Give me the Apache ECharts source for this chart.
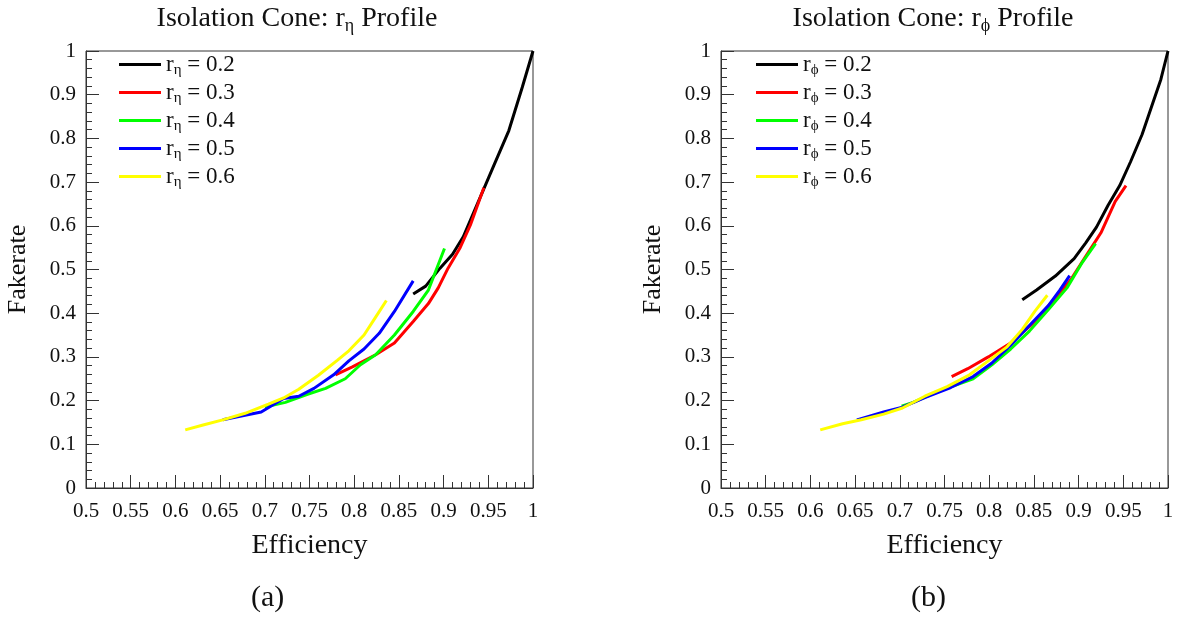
<!DOCTYPE html>
<html>
<head>
<meta charset="utf-8">
<script src="https://cdn.jsdelivr.net/npm/echarts@6/dist/echarts.min.js"></script>
<style>
  html, body { margin: 0; padding: 0; background: #fff; }
  #main { width: 1188px; height: 618px; }
</style>
</head>
<body>
<div id="main"></div>
<script>
var dom = document.getElementById('main');
var myChart = echarts.init(dom, null, { renderer: 'canvas' });

// cone radii shown in the legends
var radii = ['0.2', '0.3', '0.4', '0.5', '0.6'];
var lineColors = ['#000000', '#ff0000', '#00ff00', '#0000ff', '#ffff00'];

// (a) r_eta profile: [efficiency, fakerate]
var eta02 = [[0.866,0.444],[0.880,0.462],[0.896,0.503],[0.910,0.535],[0.922,0.575],[0.939,0.656],[0.956,0.737],[0.973,0.818],[0.988,0.917],[1.0,1.0]];
var eta03 = [[0.779,0.259],[0.798,0.277],[0.824,0.305],[0.845,0.332],[0.866,0.381],[0.883,0.422],[0.894,0.458],[0.905,0.503],[0.918,0.548],[0.930,0.602],[0.945,0.687]];
var eta04 = [[0.700,0.185],[0.723,0.196],[0.747,0.214],[0.768,0.228],[0.790,0.250],[0.807,0.282],[0.824,0.305],[0.845,0.350],[0.866,0.404],[0.883,0.453],[0.901,0.548]];
var eta05 = [[0.653,0.156],[0.696,0.174],[0.721,0.205],[0.738,0.210],[0.755,0.228],[0.777,0.259],[0.794,0.291],[0.811,0.318],[0.828,0.354],[0.845,0.404],[0.866,0.474]];
var eta06 = [[0.611,0.133],[0.631,0.144],[0.653,0.156],[0.678,0.171],[0.704,0.192],[0.721,0.206],[0.738,0.226],[0.760,0.258],[0.781,0.292],[0.794,0.314],[0.811,0.350],[0.824,0.391],[0.836,0.429]];

// (b) r_phi profile: [efficiency, fakerate]
var phi02 = [[0.837,0.431],[0.853,0.453],[0.874,0.485],[0.895,0.525],[0.908,0.561],[0.920,0.597],[0.933,0.647],[0.946,0.692],[0.958,0.746],[0.971,0.809],[0.983,0.881],[0.992,0.935],[1.0,1.0]];
var phi03 = [[0.758,0.255],[0.776,0.273],[0.799,0.300],[0.824,0.332],[0.849,0.377],[0.874,0.435],[0.891,0.476],[0.908,0.530],[0.925,0.584],[0.941,0.656],[0.953,0.692]];
var phi04 = [[0.702,0.187],[0.715,0.196],[0.740,0.219],[0.765,0.237],[0.782,0.250],[0.803,0.282],[0.824,0.318],[0.845,0.359],[0.866,0.408],[0.887,0.458],[0.904,0.516],[0.919,0.559]];
var phi05 = [[0.652,0.156],[0.682,0.174],[0.703,0.185],[0.728,0.207],[0.757,0.230],[0.782,0.255],[0.803,0.286],[0.824,0.327],[0.845,0.372],[0.866,0.417],[0.879,0.453],[0.890,0.486]];
var phi06 = [[0.611,0.133],[0.636,0.147],[0.657,0.156],[0.682,0.169],[0.703,0.183],[0.728,0.210],[0.753,0.232],[0.778,0.259],[0.799,0.291],[0.820,0.323],[0.837,0.363],[0.851,0.404],[0.865,0.441]];

var etaData = [eta02, eta03, eta04, eta05, eta06];
var phiData = [phi02, phi03, phi04, phi05, phi06];

var serif = '"Liberation Serif", "DejaVu Serif", serif';
var richText = {
    r: { fontFamily: serif, fontSize: 23, color: '#111' },
    s: { fontFamily: serif, fontSize: 15, color: '#111', padding: [12, 0, 0, 0] }
};
var titleRich = {
    r: { fontFamily: serif, fontSize: 28, fontWeight: 'normal', color: '#111' },
    s: { fontFamily: serif, fontSize: 18, fontWeight: 'normal', color: '#111', padding: [15, 0, 0, 0] }
};

function makeX(idx) {
    return {
        gridIndex: idx, type: 'value', min: 0.5, max: 1, interval: 0.05,
        name: 'Efficiency', nameLocation: 'middle', nameGap: 44,
        nameTextStyle: { fontFamily: serif, fontSize: 28, color: '#111' },
        axisLine: { lineStyle: { color: '#333', width: 1 } },
        axisTick: { inside: true, length: 13, lineStyle: { color: '#333' } },
        minorTick: { show: true, splitNumber: 5, length: 6, lineStyle: { color: '#333' } },
        axisLabel: {
            fontFamily: serif, fontSize: 21, color: '#111', margin: 13,
            formatter: function (v) { return String(+v.toFixed(2)); }
        },
        splitLine: { show: false }
    };
}
function makeY(idx) {
    return {
        gridIndex: idx, type: 'value', min: 0, max: 1, interval: 0.1,
        name: 'Fakerate', nameLocation: 'middle', nameGap: 55,
        nameTextStyle: { fontFamily: serif, fontSize: 26, color: '#111' },
        axisLine: { lineStyle: { color: '#333', width: 1 } },
        axisTick: { inside: true, length: 13, lineStyle: { color: '#333' } },
        minorTick: { show: true, splitNumber: 5, length: 6, lineStyle: { color: '#333' } },
        axisLabel: {
            fontFamily: serif, fontSize: 21, color: '#111', margin: 10,
            formatter: function (v) { return String(+v.toFixed(1)); }
        },
        splitLine: { show: false }
    };
}

var series = [];
var etaNames = [], phiNames = [];
radii.forEach(function (r, i) {
    etaNames.push('rη = ' + r);
    phiNames.push('rϕ = ' + r);
    series.push({
        name: 'rη = ' + r, type: 'line', xAxisIndex: 0, yAxisIndex: 0,
        data: etaData[i], showSymbol: false, symbol: 'none',
        lineStyle: { color: lineColors[i], width: 3 }, itemStyle: { color: lineColors[i] },
        z: 2 + i
    });
    series.push({
        name: 'rϕ = ' + r, type: 'line', xAxisIndex: 1, yAxisIndex: 1,
        data: phiData[i], showSymbol: false, symbol: 'none',
        lineStyle: { color: lineColors[i], width: 3 }, itemStyle: { color: lineColors[i] },
        z: 2 + i
    });
});

function legendFmt(name) {
    // "rη = 0.2" -> r with subscript
    return '{r|r}{s|' + name.charAt(1) + '}{r|' + name.slice(2) + '}';
}

var option = {
    animation: false,
    backgroundColor: '#fff',
    title: [
        { text: '{r|Isolation Cone: r}{s|η}{r| Profile}', left: 292, top: -3, textAlign: 'center',
          textStyle: { fontWeight: 'normal', rich: titleRich } },
        { text: '{r|Isolation Cone: r}{s|ϕ}{r| Profile}', left: 928, top: -3, textAlign: 'center',
          textStyle: { fontWeight: 'normal', rich: titleRich } }
    ],
    legend: [
        { data: etaNames, orient: 'vertical', left: 114, top: 48, itemGap: 3,
          icon: 'rect', itemWidth: 42, itemHeight: 3, selectedMode: false,
          formatter: legendFmt, textStyle: { rich: richText } },
        { data: phiNames, orient: 'vertical', left: 751, top: 48, itemGap: 3,
          icon: 'rect', itemWidth: 42, itemHeight: 3, selectedMode: false,
          formatter: legendFmt, textStyle: { rich: richText } }
    ],
    grid: [
        { left: 86, top: 51, width: 447, height: 437, show: true, borderColor: '#333', borderWidth: 1, containLabel: false },
        { left: 721, top: 51, width: 447, height: 437, show: true, borderColor: '#333', borderWidth: 1, containLabel: false }
    ],
    xAxis: [makeX(0), makeX(1)],
    yAxis: [makeY(0), makeY(1)],
    series: series,
    graphic: [
        { type: 'text', left: 251, top: 583, style: { text: '(a)', font: '30px ' + serif, fill: '#111' } },
        { type: 'text', left: 911, top: 583, style: { text: '(b)', font: '30px ' + serif, fill: '#111' } }
    ]
};

myChart.setOption(option);
window.addEventListener('resize', myChart.resize);
</script>
</body>
</html>
